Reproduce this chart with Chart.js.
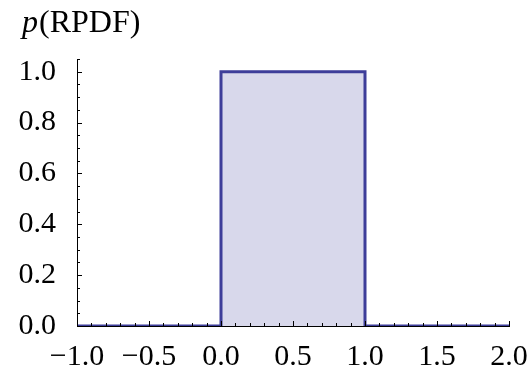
<!DOCTYPE html>
<html>
<head>
<meta charset="utf-8">
<script src="https://cdn.jsdelivr.net/npm/chart.js@4"></script>
<style>
  html, body { margin: 0; padding: 0; background: #fff; }
  #wrap { width: 529px; height: 367px; }
</style>
</head>
<body>
<div id="wrap"><canvas id="myChart" width="529" height="367"></canvas></div>
<script>
// rectangular pdf: corners of the outline
const xValues = [-1, 0, 0, 1, 1, 2];
const yValues = [0, 0, 1, 1, 0, 0];

const xTicks = [-1, -0.5, 0, 0.5, 1, 1.5, 2];
const yTicks = [0, 0.2, 0.4, 0.6, 0.8, 1.0];

const lineColor = 'rgb(61, 61, 153)';
const fillColor = 'rgba(61, 61, 153, 0.2)';
const serif = '"Liberation Serif", "Times New Roman", Times, serif';

const points = xValues.map((x, i) => ({ x: x, y: yValues[i] }));

function fmt(v) {
  const s = Number(v).toFixed(1);
  return v < 0 ? '\u2212' + s.slice(1) : s;
}

// inward tick marks, major + minor, like the original plot
const tickMarks = {
  id: 'tickMarks',
  afterDraw(chart) {
    const ctx = chart.ctx;
    const a = chart.chartArea;
    const xs = chart.scales.x, ys = chart.scales.y;
    ctx.save();
    ctx.strokeStyle = '#000';
    ctx.lineWidth = 1;
    ctx.beginPath();
    for (let i = -10; i <= 20; i++) {
      const v = i / 10;
      const px = Math.round(xs.getPixelForValue(v)) + 0.5;
      const len = (i % 5 === 0) ? 5 : 3;
      ctx.moveTo(px, a.bottom);
      ctx.lineTo(px, a.bottom - len);
    }
    for (let i = 0; i <= 21; i++) {
      const v = i * 0.05;
      const py = Math.round(ys.getPixelForValue(v)) + 0.5;
      const len = (i % 4 === 0) ? 5 : 3;
      ctx.moveTo(a.left, py);
      ctx.lineTo(a.left + len, py);
    }
    ctx.stroke();
    // y axis line
    ctx.beginPath();
    ctx.moveTo(a.left + 0.5, a.top);
    ctx.lineTo(a.left + 0.5, a.bottom);
    ctx.stroke();

    // title p(RPDF)
    ctx.fillStyle = '#000';
    ctx.textBaseline = 'alphabetic';
    ctx.font = 'italic 32px ' + serif;
    ctx.fillText('p', 22, 32);
    const w = ctx.measureText('p').width;
    ctx.font = '32px ' + serif;
    ctx.fillText('(RPDF)', 22 + w + 1, 32);
    ctx.restore();
  }
};

const config = {
  type: 'scatter',
  data: {
    datasets: [{
      data: points,
      showLine: true,
      borderColor: lineColor,
      backgroundColor: fillColor,
      borderWidth: 3,
      pointRadius: 0,
      tension: 0,
      fill: 'origin'
    }]
  },
  options: {
    responsive: false,
    animation: false,
    layout: { padding: { left: 0, right: 20, top: 59, bottom: 0 } },
    plugins: { legend: { display: false }, tooltip: { enabled: false } },
    scales: {
      x: {
        type: 'linear',
        min: -1, max: 2,
        afterBuildTicks: s => { s.ticks = xTicks.map(v => ({ value: v })); },
        afterFit: s => { s.height = 41; s.paddingLeft = 0; s.paddingRight = 0; },
        border: { display: true, color: '#000', width: 1 },
        grid: { display: false },
        ticks: {
          callback: v => fmt(v),
          color: '#000',
          font: { family: serif, size: 30 },
          padding: 5,
          maxRotation: 0,
          autoSkip: false
        }
      },
      y: {
        type: 'linear',
        min: 0, max: 1.05,
        afterBuildTicks: s => { s.ticks = yTicks.map(v => ({ value: v })); },
        afterFit: s => { s.width = 77; },
        border: { display: false },
        grid: { display: false },
        ticks: {
          callback: v => fmt(v),
          color: '#000',
          font: { family: serif, size: 30 },
          padding: 13,
          autoSkip: false
        }
      }
    }
  },
  plugins: [tickMarks]
};

const myChart = new Chart(document.getElementById('myChart'), config);
</script>
</body>
</html>
